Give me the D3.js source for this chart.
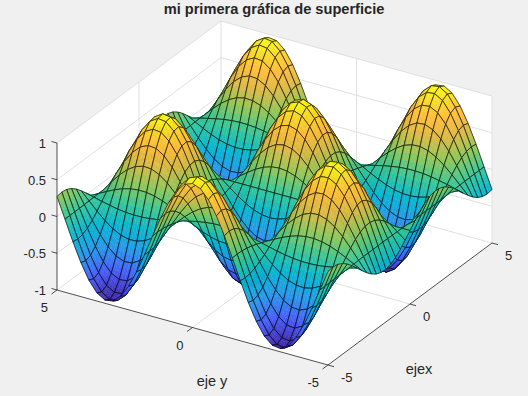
<!DOCTYPE html>
<html><head><meta charset="utf-8"><script src="https://cdn.jsdelivr.net/npm/d3@7"></script>
<style>html,body{margin:0;background:#f0f0f0}svg{display:block}text{font-family:"Liberation Sans",Arial,sans-serif;fill:#262626}</style></head>
<body><svg id="c" width="528" height="396"></svg>
<script>
const xTicks=[-5,0,5], yTicks=[-5,0,5], zTicks=[-1,-0.5,0,0.5,1];
const titleText="mi primera gráfica de superficie", xLabel="ejex", yLabel="eje y";
const gridX=[-5,-4.706,-4.412,-4.118,-3.824,-3.529,-3.235,-2.941,-2.647,-2.353,-2.059,-1.765,-1.471,-1.176,-.882,-.588,-.294,0,.294,.588,.882,1.176,1.471,1.765,2.059,2.353,2.647,2.941,3.235,3.529,3.824,4.118,4.412,4.706,5];
const gridY=[-5,-4.706,-4.412,-4.118,-3.824,-3.529,-3.235,-2.941,-2.647,-2.353,-2.059,-1.765,-1.471,-1.176,-.882,-.588,-.294,0,.294,.588,.882,1.176,1.471,1.765,2.059,2.353,2.647,2.941,3.235,3.529,3.824,4.118,4.412,4.706,5];
const z00=[.272,-.006,-.284,-.537,-.744,-.888,-.955,-.940,-.844,-.676,-.450,-.185,.096,.368,.609,.798,.918,.959,.918,.798,.609,.368,.096,-.185,-.450,-.676,-.844,-.940,-.955,-.888,-.744,-.537,-.284,-.006,.272];
const z01=[.284,-.006,-.296,-.560,-.776,-.926,-.996,-.980,-.880,-.705,-.469,-.193,.100,.384,.635,.832,.957,1,.957,.832,.635,.384,.100,-.193,-.469,-.705,-.880,-.980,-.996,-.926,-.776,-.560,-.296,-.006,.284];
const z02=[.271,-.006,-.283,-.535,-.742,-.885,-.951,-.936,-.841,-.673,-.448,-.184,.096,.367,.607,.795,.915,.956,.915,.795,.607,.367,.096,-.184,-.448,-.673,-.841,-.936,-.951,-.885,-.742,-.535,-.283,-.006,.271];
const z03=[.235,-.005,-.245,-.464,-.643,-.767,-.825,-.812,-.729,-.584,-.389,-.160,.083,.318,.526,.689,.793,.829,.793,.689,.526,.318,.083,-.160,-.389,-.584,-.729,-.812,-.825,-.767,-.643,-.464,-.245,-.005,.235];
const z04=[.179,-.004,-.187,-.353,-.490,-.584,-.628,-.618,-.555,-.444,-.296,-.121,.063,.242,.400,.525,.604,.631,.604,.525,.400,.242,.063,-.121,-.296,-.444,-.555,-.618,-.628,-.584,-.490,-.353,-.187,-.004,.179];
const z05=[.107,-.002,-.112,-.212,-.293,-.350,-.376,-.370,-.333,-.266,-.177,-.073,.038,.145,.240,.314,.362,.378,.362,.314,.240,.145,.038,-.073,-.177,-.266,-.333,-.370,-.376,-.350,-.293,-.212,-.112,-.002,.107];
const z06=[.027,-.001,-.028,-.052,-.073,-.087,-.093,-.092,-.082,-.066,-.044,-.018,.009,.036,.059,.078,.090,.094,.090,.078,.059,.036,.009,-.018,-.044,-.066,-.082,-.092,-.093,-.087,-.073,-.052,-.028,-.001,.027];
const z07=[-.056,.001,.059,.112,.155,.184,.198,.195,.175,.140,.093,.038,-.020,-.076,-.126,-.166,-.191,-.199,-.191,-.166,-.126,-.076,-.020,.038,.093,.140,.175,.195,.198,.184,.155,.112,.059,.001,-.056];
const z08=[-.135,.003,.140,.266,.368,.439,.473,.465,.418,.334,.223,.091,-.047,-.182,-.301,-.395,-.454,-.475,-.454,-.395,-.301,-.182,-.047,.091,.223,.334,.418,.465,.473,.439,.368,.266,.140,.003,-.135];
const z09=[-.201,.005,.210,.398,.551,.657,.706,.695,.624,.500,.333,.137,-.071,-.272,-.451,-.590,-.679,-.709,-.679,-.590,-.451,-.272,-.071,.137,.333,.500,.624,.695,.706,.657,.551,.398,.210,.005,-.201];
const z10=[-.251,.006,.261,.495,.686,.818,.879,.866,.777,.623,.414,.170,-.088,-.339,-.561,-.735,-.845,-.883,-.845,-.735,-.561,-.339,-.088,.170,.414,.623,.777,.866,.879,.818,.686,.495,.261,.006,-.251];
const z11=[-.278,.006,.290,.550,.762,.908,.977,.962,.864,.692,.460,.189,-.098,-.377,-.623,-.816,-.939,-.981,-.939,-.816,-.623,-.377,-.098,.189,.460,.692,.864,.962,.977,.908,.762,.550,.290,.006,-.278];
const z12=[-.282,.006,.294,.558,.772,.921,.991,.975,.876,.701,.467,.192,-.100,-.382,-.632,-.828,-.952,-.995,-.952,-.828,-.632,-.382,-.100,.192,.467,.701,.876,.975,.991,.921,.772,.558,.294,.006,-.282];
const z13=[-.262,.006,.273,.517,.717,.855,.919,.905,.813,.651,.433,.178,-.092,-.355,-.586,-.768,-.884,-.923,-.884,-.768,-.586,-.355,-.092,.178,.433,.651,.813,.905,.919,.855,.717,.517,.273,.006,-.262];
const z14=[-.219,.005,.229,.433,.600,.715,.769,.757,.680,.544,.362,.149,-.077,-.297,-.491,-.643,-.739,-.773,-.739,-.643,-.491,-.297,-.077,.149,.362,.544,.680,.757,.769,.715,.600,.433,.229,.005,-.219];
const z15=[-.157,.004,.164,.311,.431,.514,.552,.544,.488,.391,.260,.107,-.055,-.213,-.352,-.462,-.531,-.555,-.531,-.462,-.352,-.213,-.055,.107,.260,.391,.488,.544,.552,.514,.431,.311,.164,.004,-.157];
const z16=[-.082,.002,.086,.162,.225,.268,.289,.284,.255,.204,.136,.056,-.029,-.111,-.184,-.241,-.277,-.290,-.277,-.241,-.184,-.111,-.029,.056,.136,.204,.255,.284,.289,.268,.225,.162,.086,.002,-.082];
const z17=[0,0,0,0,0,0,0,0,0,0,0,0,0,0,0,0,0,0,0,0,0,0,0,0,0,0,0,0,0,0,0,0,0,0,0];
const z18=[.082,-.002,-.086,-.162,-.225,-.268,-.289,-.284,-.255,-.204,-.136,-.056,.029,.111,.184,.241,.277,.290,.277,.241,.184,.111,.029,-.056,-.136,-.204,-.255,-.284,-.289,-.268,-.225,-.162,-.086,-.002,.082];
const z19=[.157,-.004,-.164,-.311,-.431,-.514,-.552,-.544,-.488,-.391,-.260,-.107,.055,.213,.352,.462,.531,.555,.531,.462,.352,.213,.055,-.107,-.260,-.391,-.488,-.544,-.552,-.514,-.431,-.311,-.164,-.004,.157];
const z20=[.219,-.005,-.229,-.433,-.600,-.715,-.769,-.757,-.680,-.544,-.362,-.149,.077,.297,.491,.643,.739,.773,.739,.643,.491,.297,.077,-.149,-.362,-.544,-.680,-.757,-.769,-.715,-.600,-.433,-.229,-.005,.219];
const z21=[.262,-.006,-.273,-.517,-.717,-.855,-.919,-.905,-.813,-.651,-.433,-.178,.092,.355,.586,.768,.884,.923,.884,.768,.586,.355,.092,-.178,-.433,-.651,-.813,-.905,-.919,-.855,-.717,-.517,-.273,-.006,.262];
const z22=[.282,-.006,-.294,-.558,-.772,-.921,-.991,-.975,-.876,-.701,-.467,-.192,.100,.382,.632,.828,.952,.995,.952,.828,.632,.382,.100,-.192,-.467,-.701,-.876,-.975,-.991,-.921,-.772,-.558,-.294,-.006,.282];
const z23=[.278,-.006,-.290,-.550,-.762,-.908,-.977,-.962,-.864,-.692,-.460,-.189,.098,.377,.623,.816,.939,.981,.939,.816,.623,.377,.098,-.189,-.460,-.692,-.864,-.962,-.977,-.908,-.762,-.550,-.290,-.006,.278];
const z24=[.251,-.006,-.261,-.495,-.686,-.818,-.879,-.866,-.777,-.623,-.414,-.170,.088,.339,.561,.735,.845,.883,.845,.735,.561,.339,.088,-.170,-.414,-.623,-.777,-.866,-.879,-.818,-.686,-.495,-.261,-.006,.251];
const z25=[.201,-.005,-.210,-.398,-.551,-.657,-.706,-.695,-.624,-.500,-.333,-.137,.071,.272,.451,.590,.679,.709,.679,.590,.451,.272,.071,-.137,-.333,-.500,-.624,-.695,-.706,-.657,-.551,-.398,-.210,-.005,.201];
const z26=[.135,-.003,-.140,-.266,-.368,-.439,-.473,-.465,-.418,-.334,-.223,-.091,.047,.182,.301,.395,.454,.475,.454,.395,.301,.182,.047,-.091,-.223,-.334,-.418,-.465,-.473,-.439,-.368,-.266,-.140,-.003,.135];
const z27=[.056,-.001,-.059,-.112,-.155,-.184,-.198,-.195,-.175,-.140,-.093,-.038,.020,.076,.126,.166,.191,.199,.191,.166,.126,.076,.020,-.038,-.093,-.140,-.175,-.195,-.198,-.184,-.155,-.112,-.059,-.001,.056];
const z28=[-.027,.001,.028,.052,.073,.087,.093,.092,.082,.066,.044,.018,-.009,-.036,-.059,-.078,-.090,-.094,-.090,-.078,-.059,-.036,-.009,.018,.044,.066,.082,.092,.093,.087,.073,.052,.028,.001,-.027];
const z29=[-.107,.002,.112,.212,.293,.350,.376,.370,.333,.266,.177,.073,-.038,-.145,-.240,-.314,-.362,-.378,-.362,-.314,-.240,-.145,-.038,.073,.177,.266,.333,.370,.376,.350,.293,.212,.112,.002,-.107];
const z30=[-.179,.004,.187,.353,.490,.584,.628,.618,.555,.444,.296,.121,-.063,-.242,-.400,-.525,-.604,-.631,-.604,-.525,-.400,-.242,-.063,.121,.296,.444,.555,.618,.628,.584,.490,.353,.187,.004,-.179];
const z31=[-.235,.005,.245,.464,.643,.767,.825,.812,.729,.584,.389,.160,-.083,-.318,-.526,-.689,-.793,-.829,-.793,-.689,-.526,-.318,-.083,.160,.389,.584,.729,.812,.825,.767,.643,.464,.245,.005,-.235];
const z32=[-.271,.006,.283,.535,.742,.885,.951,.936,.841,.673,.448,.184,-.096,-.367,-.607,-.795,-.915,-.956,-.915,-.795,-.607,-.367,-.096,.184,.448,.673,.841,.936,.951,.885,.742,.535,.283,.006,-.271];
const z33=[-.284,.006,.296,.560,.776,.926,.996,.980,.880,.705,.469,.193,-.100,-.384,-.635,-.832,-.957,-1,-.957,-.832,-.635,-.384,-.100,.193,.469,.705,.880,.980,.996,.926,.776,.560,.296,.006,-.284];
const z34=[-.272,.006,.284,.537,.744,.888,.955,.940,.844,.676,.450,.185,-.096,-.368,-.609,-.798,-.918,-.959,-.918,-.798,-.609,-.368,-.096,.185,.450,.676,.844,.940,.955,.888,.744,.537,.284,.006,-.272];
const zRows=[z00,z01,z02,z03,z04,z05,z06,z07,z08,z09,z10,z11,z12,z13,z14,z15,z16,z17,z18,z19,z20,z21,z22,z23,z24,z25,z26,z27,z28,z29,z30,z31,z32,z33,z34];

const svg=d3.select("#c");
const o=[328,365];
const xH=d3.scaleLinear([-5,5],[0,164]),xV=d3.scaleLinear([-5,5],[0,-122]),yH=d3.scaleLinear([-5,5],[0,-271]),yV=d3.scaleLinear([-5,5],[0,-75]),zV=d3.scaleLinear([-1,1],[0,-147]);
const P=(x,y,z)=>[o[0]+xH(x)+yH(y),o[1]+xV(x)+yV(y)+zV(z)];
const line=d3.line();
const cm=d3.scaleLinear([0,.125,.25,.375,.5,.625,.75,.85,.93,1],["#3E26A8","#475BF9","#2796EB","#05B5D1","#33C799","#8CC759","#DDB945","#FFBD3A","#F9D828","#F9FB15"]);
const col=d3.scaleLinear([-1,1],[0,1]);
svg.append("path").attr("fill","#fff").attr("d",line([P(-5,5,1),P(5,5,1),P(5,-5,1),P(5,-5,-1),P(-5,-5,-1),P(-5,5,-1)])+"Z");
const G=(a,b)=>svg.append("path").attr("d",line([a,b])).attr("stroke","#dfdfdf").attr("fill","none");
zTicks.slice(1,-1).forEach(z=>{G(P(-5,5,z),P(5,5,z));G(P(5,5,z),P(5,-5,z));});
G(P(0,5,-1),P(0,5,1));G(P(5,0,-1),P(5,0,1));G(P(0,-5,-1),P(0,5,-1));G(P(-5,0,-1),P(5,0,-1));
G(P(-5,5,1),P(5,5,1));G(P(5,5,1),P(5,-5,1));G(P(5,5,-1),P(5,5,1));G(P(5,-5,-1),P(5,-5,1));G(P(5,5,-1),P(5,-5,-1));G(P(5,5,-1),P(-5,5,-1));
const A=(a,b)=>svg.append("path").attr("d",line([a,b])).attr("stroke","#262626").attr("fill","none").attr("stroke-width",.8);
A(P(-5,5,-1),P(-5,5,1));A(P(-5,5,-1),P(-5,-5,-1));A(P(-5,-5,-1),P(5,-5,-1));
const T=(s,x,y,a,w,f)=>svg.append("text").attr("x",x).attr("y",y).attr("text-anchor",a||"middle").attr("font-size",f||13).attr("font-weight",w||400).text(s);
zTicks.forEach(z=>{const p=P(-5,5,z);A(p,[p[0]-5.5,p[1]-1.5]);T(z,46,p[1]+5,"end");});
yTicks.forEach(y=>{const p=P(-5,y,-1);A(p,[p[0]-5.5,p[1]+4]);T(y,p[0]-9,p[1]+22,"end");});
xTicks.forEach(x=>{const p=P(x,-5,-1);A(p,[p[0]+6,p[1]+1.7]);T(x,p[0]+13,p[1]+16.5,"start");});
T(yLabel,212,386,"middle",400,14.5);T(xLabel,419,374,"middle",400,14.5);
T(titleText,274,13.5,"middle",700,14.6);
const g=svg.append("g");
const S=3;
for(let i=gridX.length-2;i>=0;i--)for(let j=gridY.length-2;j>=0;j--){
 const x0=gridX[i],x1=gridX[i+1],y0=gridY[j],y1=gridY[j+1];
 const a=zRows[i][j],b=zRows[i+1][j],c=zRows[i+1][j+1],d=zRows[i][j+1];
 const at=(u,v)=>{const z=(1-u)*(1-v)*a+u*(1-v)*b+u*v*c+(1-u)*v*d;return [x0+(x1-x0)*u,y0+(y1-y0)*v,z];};
 for(let p=S-1;p>=0;p--)for(let q=S-1;q>=0;q--){
  const cs=[at(p/S,q/S),at((p+1)/S,q/S),at((p+1)/S,(q+1)/S),at(p/S,(q+1)/S)];
  const mid=(cs[0][2]+cs[1][2]+cs[2][2]+cs[3][2])/4;
  const k=cm(col(mid));
  g.append("path").attr("d",line(cs.map(v=>P(v[0],v[1],v[2])))+"Z").attr("fill",k).attr("stroke",k).attr("stroke-width",.4);
 }
 g.append("path").attr("d",line([P(x0,y0,a),P(x1,y0,b),P(x1,y1,c),P(x0,y1,d)])+"Z").attr("fill","none").attr("stroke","#000").attr("stroke-width",.65);
}
</script></body></html>
